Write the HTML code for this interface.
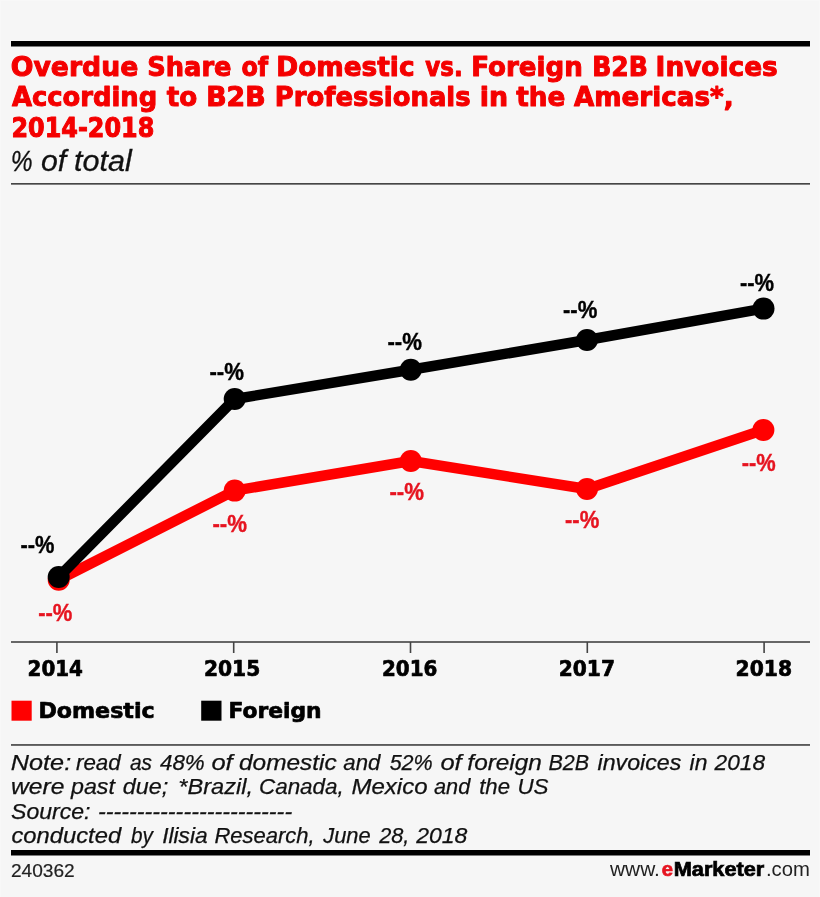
<!DOCTYPE html>
<html><head><meta charset="utf-8"><title>Chart</title>
<style>
html,body{margin:0;padding:0;background:#f6f6f6;}
svg{display:block}
text{font-family:"Liberation Sans",sans-serif;}
.t{font-family:"DejaVu Sans","Liberation Sans",sans-serif;font-weight:bold;fill:#f40000;stroke:#f40000;stroke-width:1px;stroke-linejoin:round;font-size:26.8px}
.s{font-style:italic;font-size:29.5px;fill:#111;stroke:#111;stroke-width:.3px}
.lk{font-weight:bold;font-size:23.6px;fill:#000;stroke:#000;stroke-width:.4px}
.lr{font-weight:bold;font-size:23.6px;fill:#e61420;stroke:#e61420;stroke-width:.4px}
.a{font-family:"DejaVu Sans","Liberation Sans",sans-serif;font-weight:bold;font-size:21.6px;fill:#000;stroke:#000;stroke-width:.7px;stroke-linejoin:round}
.n{font-style:italic;font-size:22px;fill:#111;stroke:#111;stroke-width:.25px}
.f{font-size:20.3px;fill:#222}
.fn{font-size:18.7px;fill:#222;stroke:#222;stroke-width:.2px}
.fe{font-size:19.5px;font-weight:bold;fill:#e61420;stroke:#e61420;stroke-width:.7px}
.fm{font-size:19.5px;font-weight:bold;fill:#000;stroke:#000;stroke-width:.7px}
</style></head><body>
<svg width="820" height="897" viewBox="0 0 820 897">
<rect x="0" y="0" width="820" height="897" fill="#f6f6f6"/>
<rect x="0" y="0" width="820" height="1" fill="#f8f8f8"/><rect x="0" y="0" width="1" height="897" fill="#f8f8f8"/><rect x="819" y="0" width="1" height="897" fill="#f8f8f8"/>
<rect x="11" y="41" width="799" height="5.5" fill="#000"/>
<rect x="11" y="183.1" width="799" height="1.5" fill="#333"/>
<rect x="11" y="641.2" width="799" height="1.6" fill="#444"/>
<g fill="#444">
<rect x="56.1" y="642" width="1.6" height="11"/>
<rect x="232.9" y="642" width="1.6" height="11"/>
<rect x="409.7" y="642" width="1.6" height="11"/>
<rect x="586.5" y="642" width="1.6" height="11"/>
<rect x="763.3" y="642" width="1.6" height="11"/>
</g>
<polyline points="58.7,579.8 234.7,490.6 410.8,461 587,489 763.4,430" fill="none" stroke="#ff0000" stroke-width="10.5" stroke-linejoin="round" stroke-linecap="round"/>
<g fill="#ff0000">
<circle cx="58.7" cy="579.8" r="11"/><circle cx="234.7" cy="490.6" r="11"/><circle cx="410.8" cy="461" r="11"/><circle cx="587" cy="489" r="11"/><circle cx="763.4" cy="430" r="11"/>
</g>
<polyline points="58.7,577 234.7,399 410.8,369.8 587,340 763.5,308.6" fill="none" stroke="#000" stroke-width="10.5" stroke-linejoin="round" stroke-linecap="round"/>
<g fill="#000">
<circle cx="58.7" cy="577" r="11"/><circle cx="234.7" cy="399" r="11"/><circle cx="410.8" cy="369.8" r="11"/><circle cx="587" cy="340" r="11"/><circle cx="763.5" cy="308.6" r="11"/>
</g>
<rect x="11.5" y="700.7" width="20.2" height="20" fill="#ff0000"/>
<rect x="201.2" y="700.7" width="20.3" height="20" fill="#000"/>
<rect x="11" y="744.2" width="799" height="1.5" fill="#333"/>
<rect x="11" y="850" width="799" height="5.5" fill="#000"/>
<text class="t" y="75.50"><tspan x="10.79" textLength="127.49" lengthAdjust="spacingAndGlyphs">Overdue</tspan> <tspan x="147.30" textLength="84.25" lengthAdjust="spacingAndGlyphs">Share</tspan> <tspan x="241.38" textLength="26.80" lengthAdjust="spacingAndGlyphs">of</tspan> <tspan x="276.26" textLength="138.29" lengthAdjust="spacingAndGlyphs">Domestic</tspan> <tspan x="425.30" textLength="37.38" lengthAdjust="spacingAndGlyphs">vs.</tspan> <tspan x="471.20" textLength="111.57" lengthAdjust="spacingAndGlyphs">Foreign</tspan> <tspan x="592.15" textLength="55.67" lengthAdjust="spacingAndGlyphs">B2B</tspan> <tspan x="655.57" textLength="122.17" lengthAdjust="spacingAndGlyphs">Invoices</tspan></text>
<text class="t" y="106.40"><tspan x="11.94" textLength="145.21" lengthAdjust="spacingAndGlyphs">According</tspan> <tspan x="166.67" textLength="30.48" lengthAdjust="spacingAndGlyphs">to</tspan> <tspan x="206.19" textLength="59.47" lengthAdjust="spacingAndGlyphs">B2B</tspan> <tspan x="274.79" textLength="195.84" lengthAdjust="spacingAndGlyphs">Professionals</tspan> <tspan x="479.72" textLength="28.28" lengthAdjust="spacingAndGlyphs">in</tspan> <tspan x="516.33" textLength="49.03" lengthAdjust="spacingAndGlyphs">the</tspan> <tspan x="574.08" textLength="159.54" lengthAdjust="spacingAndGlyphs">Americas*,</tspan></text>
<text class="t" x="11.41" y="137.20" textLength="142.92" lengthAdjust="spacingAndGlyphs">2014-2018</text>
<text class="s" y="170.80"><tspan x="10.64" textLength="21.89" lengthAdjust="spacingAndGlyphs">%</tspan> <tspan x="40.94" textLength="25.20" lengthAdjust="spacingAndGlyphs">of</tspan> <tspan x="73.96" textLength="57.76" lengthAdjust="spacingAndGlyphs">total</tspan></text>
<text class="lk" x="20.38" y="552.70" textLength="33.96" lengthAdjust="spacingAndGlyphs">--%</text>
<text class="lk" x="209.45" y="379.70" textLength="34.50" lengthAdjust="spacingAndGlyphs">--%</text>
<text class="lk" x="387.45" y="350.10" textLength="34.50" lengthAdjust="spacingAndGlyphs">--%</text>
<text class="lk" x="562.96" y="318.30" textLength="34.33" lengthAdjust="spacingAndGlyphs">--%</text>
<text class="lk" x="739.95" y="291.10" textLength="34.15" lengthAdjust="spacingAndGlyphs">--%</text>
<text class="lr" x="38.18" y="620.90" textLength="34.19" lengthAdjust="spacingAndGlyphs">--%</text>
<text class="lr" x="212.39" y="532.10" textLength="34.55" lengthAdjust="spacingAndGlyphs">--%</text>
<text class="lr" x="389.39" y="500.10" textLength="34.55" lengthAdjust="spacingAndGlyphs">--%</text>
<text class="lr" x="565.02" y="528.30" textLength="34.26" lengthAdjust="spacingAndGlyphs">--%</text>
<text class="lr" x="741.64" y="470.70" textLength="33.97" lengthAdjust="spacingAndGlyphs">--%</text>
<text class="a" x="27.56" y="676.00" textLength="55.42" lengthAdjust="spacingAndGlyphs">2014</text>
<text class="a" x="203.95" y="676.00" textLength="56.38" lengthAdjust="spacingAndGlyphs">2015</text>
<text class="a" x="382.03" y="676.00" textLength="55.39" lengthAdjust="spacingAndGlyphs">2016</text>
<text class="a" x="558.75" y="676.00" textLength="56.22" lengthAdjust="spacingAndGlyphs">2017</text>
<text class="a" x="735.51" y="676.00" textLength="56.53" lengthAdjust="spacingAndGlyphs">2018</text>
<text class="a" x="38.41" y="718.40" textLength="116.25" lengthAdjust="spacingAndGlyphs">Domestic</text>
<text class="a" x="228.46" y="718.40" textLength="93.12" lengthAdjust="spacingAndGlyphs">Foreign</text>
<text class="n" y="769.50"><tspan x="10.87" textLength="60.31" lengthAdjust="spacingAndGlyphs">Note:</tspan> <tspan x="76.00" textLength="44.74" lengthAdjust="spacingAndGlyphs">read</tspan> <tspan x="130.00" textLength="22.03" lengthAdjust="spacingAndGlyphs">as</tspan> <tspan x="160.00" textLength="44.77" lengthAdjust="spacingAndGlyphs">48%</tspan> <tspan x="211.41" textLength="21.24" lengthAdjust="spacingAndGlyphs">of</tspan> <tspan x="238.97" textLength="97.79" lengthAdjust="spacingAndGlyphs">domestic</tspan> <tspan x="343.37" textLength="37.01" lengthAdjust="spacingAndGlyphs">and</tspan> <tspan x="389.64" textLength="43.12" lengthAdjust="spacingAndGlyphs">52%</tspan> <tspan x="440.41" textLength="21.24" lengthAdjust="spacingAndGlyphs">of</tspan> <tspan x="467.39" textLength="74.53" lengthAdjust="spacingAndGlyphs">foreign</tspan> <tspan x="548.42" textLength="40.68" lengthAdjust="spacingAndGlyphs">B2B</tspan> <tspan x="597.56" textLength="83.74" lengthAdjust="spacingAndGlyphs">invoices</tspan> <tspan x="689.59" textLength="17.84" lengthAdjust="spacingAndGlyphs">in</tspan> <tspan x="714.53" textLength="50.60" lengthAdjust="spacingAndGlyphs">2018</tspan></text>
<text class="n" y="794.00"><tspan x="11.02" textLength="53.42" lengthAdjust="spacingAndGlyphs">were</tspan> <tspan x="71.00" textLength="43.94" lengthAdjust="spacingAndGlyphs">past</tspan> <tspan x="122.81" textLength="45.43" lengthAdjust="spacingAndGlyphs">due;</tspan> <tspan x="178.28" textLength="74.76" lengthAdjust="spacingAndGlyphs">*Brazil,</tspan> <tspan x="258.98" textLength="84.78" lengthAdjust="spacingAndGlyphs">Canada,</tspan> <tspan x="351.44" textLength="76.18" lengthAdjust="spacingAndGlyphs">Mexico</tspan> <tspan x="434.00" textLength="36.26" lengthAdjust="spacingAndGlyphs">and</tspan> <tspan x="479.20" textLength="30.80" lengthAdjust="spacingAndGlyphs">the</tspan> <tspan x="517.44" textLength="31.08" lengthAdjust="spacingAndGlyphs">US</tspan></text>
<text class="n" y="818.50"><tspan x="11.02" textLength="79.43" lengthAdjust="spacingAndGlyphs">Source:</tspan> <tspan x="97.94" textLength="194.22" lengthAdjust="spacingAndGlyphs">-------------------------</tspan></text>
<text class="n" y="843.00"><tspan x="11.47" textLength="109.68" lengthAdjust="spacingAndGlyphs">conducted</tspan> <tspan x="131.00" textLength="21.91" lengthAdjust="spacingAndGlyphs">by</tspan> <tspan x="162.18" textLength="45.54" lengthAdjust="spacingAndGlyphs">Ilisia</tspan> <tspan x="214.40" textLength="100.34" lengthAdjust="spacingAndGlyphs">Research,</tspan> <tspan x="323.20" textLength="47.50" lengthAdjust="spacingAndGlyphs">June</tspan> <tspan x="379.19" textLength="30.21" lengthAdjust="spacingAndGlyphs">28,</tspan> <tspan x="416.22" textLength="51.19" lengthAdjust="spacingAndGlyphs">2018</tspan></text>
<text class="fn" x="10.92" y="876.60" textLength="63.78" lengthAdjust="spacingAndGlyphs">240362</text>
<text y="876.30"><tspan class="f" x="610.01" textLength="49.90" lengthAdjust="spacingAndGlyphs">www.</tspan><tspan class="fe" x="661.78" textLength="11.28" lengthAdjust="spacingAndGlyphs">e</tspan><tspan class="fm" x="673.73" textLength="90.59" lengthAdjust="spacingAndGlyphs">Marketer</tspan><tspan class="f" x="765.94" textLength="43.97" lengthAdjust="spacingAndGlyphs">.com</tspan></text>
</svg>
</body></html>
